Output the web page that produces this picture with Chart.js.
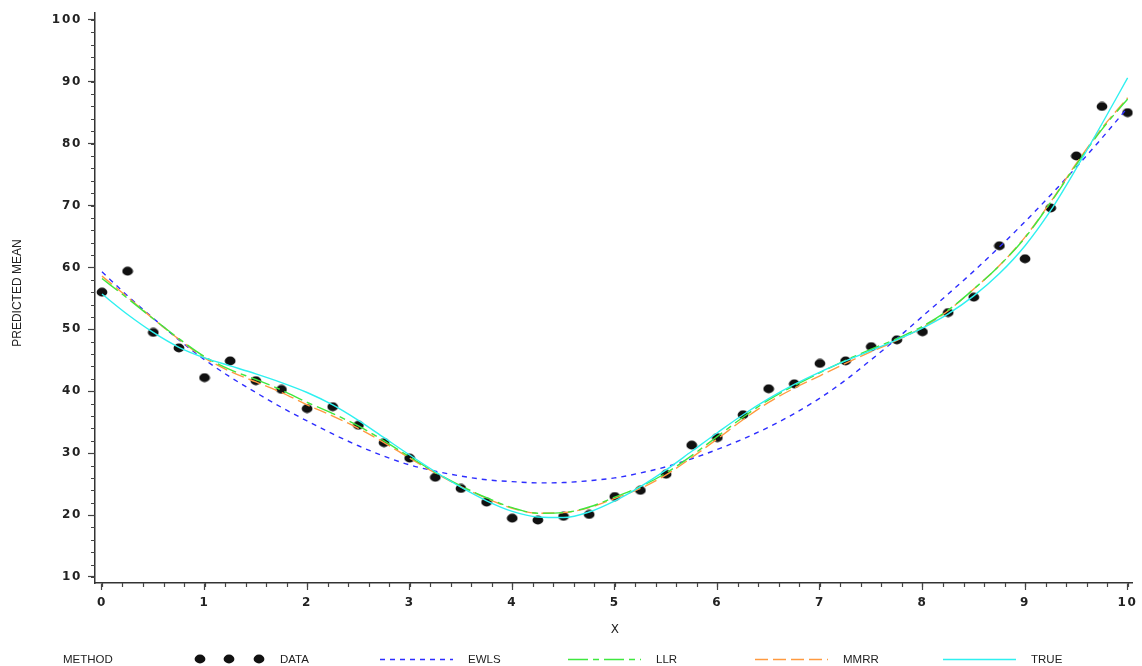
<!DOCTYPE html>
<html>
<head>
<meta charset="utf-8">
<title>Predicted mean by method</title>
<script src="https://cdn.jsdelivr.net/npm/chart.js@4/dist/chart.umd.min.js"></script>
<style>
  html, body { margin: 0; padding: 0; background: #ffffff; }
  #wrap { width: 1142px; height: 666px; }
</style>
</head>
<body>
<div id="wrap"><canvas id="chart" width="1142" height="666"></canvas></div>
<script>
// Observed data
const DATA_X = [0, 0.25, 0.5, 0.75, 1, 1.25, 1.5, 1.75, 2, 2.25, 2.5, 2.75, 3, 3.25, 3.5, 3.75,
  4, 4.25, 4.5, 4.75, 5, 5.25, 5.5, 5.75, 6, 6.25, 6.5, 6.75, 7, 7.25, 7.5, 7.75,
  8, 8.25, 8.5, 8.75, 9, 9.25, 9.5, 9.75, 10];
const DATA_Y = [56.0, 59.4, 49.5, 47.0, 42.2, 44.9, 41.7, 40.3, 37.2, 37.5, 34.5, 31.7, 29.2, 26.1, 24.3, 22.1,
  19.5, 19.2, 19.8, 20.1, 23.0, 24.0, 26.6, 31.3, 32.5, 36.2, 40.4, 41.2, 44.5, 44.9, 47.2, 48.3,
  49.6, 52.7, 55.2, 63.5, 61.4, 69.6, 78.0, 86.0, 85.0];

// Fitted curves, evaluated on a common grid
const CURVE_X = [0, 0.25, 0.5, 0.75, 1, 1.25, 1.5, 1.75, 2, 2.25, 2.5, 2.75, 3, 3.25, 3.5, 3.75,
  4, 4.25, 4.5, 4.75, 5, 5.25, 5.5, 5.75, 6, 6.25, 6.5, 6.75, 7, 7.25, 7.5, 7.75,
  8, 8.25, 8.5, 8.75, 9, 9.25, 9.5, 9.75, 10];
const EWLS = [59.3, 55.4, 51.8, 48.3, 45.1, 42.3, 39.8, 37.4, 35.2, 33.1, 31.2, 29.5, 28.1, 27.1, 26.3, 25.7,
  25.4, 25.2, 25.25, 25.55, 26.0, 26.8, 27.8, 29.1, 30.6, 32.3, 34.2, 36.4, 38.9, 41.8, 45.1, 48.5,
  52.1, 55.7, 59.4, 63.3, 67.4, 71.7, 76.2, 80.9, 85.8];
const LLR = [58.2, 55.0, 51.7, 48.5, 45.6, 43.5, 41.9, 40.2, 38.2, 36.4, 34.4, 32.0, 29.4, 26.9, 24.7, 22.8,
  21.2, 20.3, 20.4, 21.3, 22.9, 24.6, 26.8, 29.6, 32.7, 35.8, 38.6, 40.9, 43.0, 45.0, 46.8, 48.5,
  50.5, 53.1, 56.5, 60.3, 64.8, 70.5, 76.6, 82.3, 87.2];
const MMRR = [58.6, 55.2, 51.7, 48.4, 45.4, 43.2, 41.5, 39.8, 37.8, 36.0, 34.0, 31.7, 29.2, 26.8, 24.6, 22.7,
  21.1, 20.3, 20.4, 21.2, 22.7, 24.3, 26.5, 29.3, 32.3, 35.4, 38.2, 40.5, 42.5, 44.5, 46.4, 48.2,
  50.3, 53.0, 56.5, 60.3, 64.9, 70.6, 76.8, 82.5, 87.4];
const TRUE_MEAN = [55.7, 52.4, 49.5, 47.1, 45.4, 44.1, 42.8, 41.4, 39.8, 37.8, 35.3, 32.5, 29.7, 27.0, 24.5, 22.3,
  20.6, 19.7, 19.6, 20.5, 22.3, 24.6, 27.3, 30.3, 33.3, 36.2, 38.8, 41.1, 43.1, 44.9, 46.6, 48.3,
  50.2, 52.5, 55.4, 59.0, 63.5, 69.2, 76.0, 83.2, 90.6];

// Axis tick values
const X_TICKS = [0, 1, 2, 3, 4, 5, 6, 7, 8, 9, 10];
const Y_TICKS = [10, 20, 30, 40, 50, 60, 70, 80, 90, 100];
const X_MINOR_STEP = 0.2;
const Y_MINOR_STEP = 2;

const LEGEND_TITLE = 'METHOD';
const SERIES_NAMES = ['DATA', 'EWLS', 'LLR', 'MMRR', 'TRUE'];

const pts = (xs, ys) => xs.map((x, i) => ({ x: x, y: ys[i] }));

// Filled elliptical marker for the observations
const dot = document.createElement('canvas');
dot.width = 12; dot.height = 10;
(function () {
  const c = dot.getContext('2d');
  c.fillStyle = '#111111';
  c.beginPath();
  c.ellipse(6, 5, 5.4, 4.4, 0, 0, Math.PI * 2);
  c.fill();
})();

const TICK_FONT = { family: '"DejaVu Sans", sans-serif', size: 12, weight: 'bold' };
const TEXT_COLOR = '#222222';

function curve(label, ys, color, dash, order) {
  return {
    label: label,
    data: pts(CURVE_X, ys),
    showLine: true,
    borderColor: color,
    backgroundColor: color,
    borderWidth: 1.4,
    borderDash: dash,
    pointRadius: 0,
    pointHoverRadius: 0,
    cubicInterpolationMode: 'monotone',
    order: order
  };
}

// Minor tick marks, axis titles and the method key
const decorations = {
  id: 'decorations',
  beforeDraw(chart) { chart.ctx.letterSpacing = '1.7px'; },
  beforeDatasetsDraw(chart) { chart.ctx.letterSpacing = '0px'; },
  afterDraw(chart) {
    const ctx = chart.ctx;
    const xs = chart.scales.x, ys = chart.scales.y;
    const area = chart.chartArea;
    ctx.save();
    ctx.letterSpacing = '0px';
    ctx.strokeStyle = '#444444';
    ctx.lineWidth = 1.2;
    ctx.beginPath();
    for (let v = 0; v <= 10.0001; v += X_MINOR_STEP) {
      const px = Math.round(xs.getPixelForValue(v)) + 0.5;
      ctx.moveTo(px, area.bottom);
      ctx.lineTo(px, area.bottom + 4);
    }
    for (let v = 10; v <= 100.0001; v += Y_MINOR_STEP) {
      const py = Math.round(ys.getPixelForValue(v)) + 0.5;
      ctx.moveTo(area.left, py);
      ctx.lineTo(area.left - 4, py);
    }
    ctx.stroke();

    // axis titles
    ctx.fillStyle = TEXT_COLOR;
    ctx.textAlign = 'center';
    ctx.textBaseline = 'middle';
    ctx.font = '12px "DejaVu Sans", sans-serif';
    ctx.fillText('X', (area.left + area.right) / 2 + 1, 630);
    ctx.save();
    ctx.translate(18, (area.top + area.bottom) / 2 - 5);
    ctx.rotate(-Math.PI / 2);
    ctx.font = '12px "Liberation Sans Narrow", "Liberation Sans", sans-serif';
    ctx.fillText('PREDICTED MEAN', 0, 0);
    ctx.restore();

    // key
    const ky = 659;
    ctx.font = '11.5px "Liberation Sans", Arial, sans-serif';
    ctx.textAlign = 'left';
    ctx.fillText(LEGEND_TITLE, 63, ky + 1);
    const ds = chart.data.datasets;
    const startX = [192, 380, 568, 755, 943];
    ds.forEach((d, i) => {
      const x0 = startX[i];
      if (i === 0) {
        [8, 37, 67].forEach(o => ctx.drawImage(dot, x0 + o - 6, ky - 5));
      } else {
        ctx.save();
        ctx.strokeStyle = d.borderColor;
        ctx.lineWidth = d.borderWidth;
        ctx.setLineDash(d.borderDash || []);
        ctx.beginPath();
        ctx.moveTo(x0, ky + 0.5);
        ctx.lineTo(x0 + 73, ky + 0.5);
        ctx.stroke();
        ctx.restore();
      }
      ctx.fillStyle = TEXT_COLOR;
      ctx.fillText(d.label, x0 + 88, ky + 1);
    });
    ctx.restore();
  }
};

new Chart(document.getElementById('chart'), {
  type: 'scatter',
  data: {
    datasets: [
      {
        label: SERIES_NAMES[0],
        data: pts(DATA_X, DATA_Y),
        pointStyle: dot,
        pointRadius: 5,
        pointHoverRadius: 5,
        showLine: false,
        order: 6
      },
      curve(SERIES_NAMES[1], EWLS, '#2e2eff', [5, 5], 5),
      curve(SERIES_NAMES[2], LLR, '#3fe83f', [20, 5, 6, 5], 3),
      curve(SERIES_NAMES[3], MMRR, '#ff9a40', [13, 5], 4),
      curve(SERIES_NAMES[4], TRUE_MEAN, '#2ff0f0', [], 2)
    ]
  },
  options: {
    responsive: false,
    animation: false,
    devicePixelRatio: 1,
    layout: { padding: { left: 0, right: 7, top: 12, bottom: 0 } },
    plugins: { legend: { display: false }, tooltip: { enabled: false } },
    scales: {
      x: {
        type: 'linear',
        min: -0.068,
        max: 10.05,
        afterBuildTicks: s => { s.ticks = X_TICKS.map(v => ({ value: v })); },
        afterFit: s => { s.height = 83; },
        ticks: { font: TICK_FONT, color: TEXT_COLOR, padding: 6, maxRotation: 0, autoSkip: false,
                 callback: v => String(v) },
        grid: { display: true, drawOnChartArea: false, tickLength: 7, tickColor: '#444444', tickWidth: 1.2 },
        border: { display: true, color: '#333333', width: 1.5 }
      },
      y: {
        type: 'linear',
        min: 9.03,
        max: 101.06,
        afterBuildTicks: s => { s.ticks = Y_TICKS.map(v => ({ value: v })); },
        afterFit: s => { s.width = 95; },
        ticks: { font: TICK_FONT, color: TEXT_COLOR, padding: 6, autoSkip: false,
                 callback: v => String(v) },
        grid: { display: true, drawOnChartArea: false, tickLength: 7, tickColor: '#444444', tickWidth: 1.2 },
        border: { display: true, color: '#333333', width: 1.5 }
      }
    }
  },
  plugins: [decorations]
});
</script>
</body>
</html>
